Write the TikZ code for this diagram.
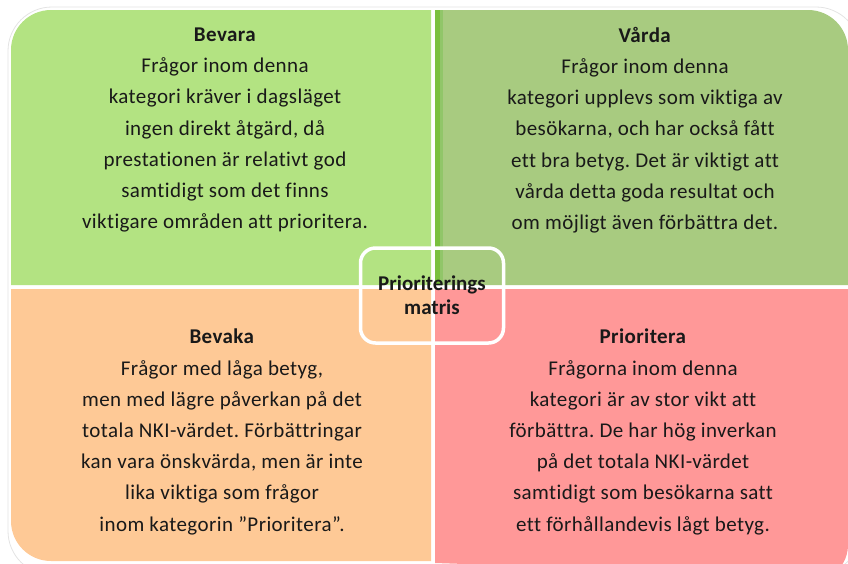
\documentclass[tikz,border=0pt]{standalone}
\usepackage{fontspec}
\setmainfont{Carlito}[Ligatures=NoCommon]
\newfontfamily\spacedfont{Carlito}[Ligatures=NoCommon,LetterSpace=2]
\frenchspacing
\definecolor{qtl}{RGB}{179,227,130}
\definecolor{qtr}{RGB}{168,203,128}
\definecolor{qbl}{RGB}{254,201,150}
\definecolor{qbr}{RGB}{255,152,152}
\definecolor{stripA}{RGB}{122,192,62}
\definecolor{stripB}{RGB}{145,198,105}
\definecolor{txt}{RGB}{25,25,25}
\tikzset{
  quadtext/.style={align=center, text=txt, font=\spacedfont\fontsize{21}{31.2}\selectfont, inner sep=0pt},
  centerbox/.style={draw=white, line width=3.5pt, rounded corners=15pt, minimum width=143pt, minimum height=95pt, align=center, text=txt, font=\fontsize{21}{24}\selectfont\bfseries}
}
\begin{document}
\begin{tikzpicture}[x=1pt,y=-1pt]
\useasboundingbox (0,0) rectangle (848,563);
% faint outer outline
\draw[gray!22, line width=0.8pt, rounded corners=44pt] (8,7) rectangle (860,575);
% quadrants
\fill[qtl] (11,285) -- (11,50) arc[start angle=180,end angle=270,radius=40] -- (431,10) -- (431,285) -- cycle;
\fill[qtr] (435,10) -- (808,10) arc[start angle=270,end angle=360,radius=40] -- (848,285) -- (435,285) -- cycle;
\fill[qbl] (11,289) -- (431,289) -- (431,561) -- (51,561) arc[start angle=90,end angle=180,radius=40] -- cycle;
\fill[qbr] (435,289) -- (848,289) -- (848,545) arc[start angle=0,end angle=60,radius=36] -- (435,563) -- cycle;
\fill[stripA] (435,10) rectangle (440,285);
\fill[stripB] (440,10) rectangle (443,285);
% texts
\node[quadtext] (tl) at (225,130) {\textbf{Bevara}\\Frågor inom denna\\kategori kräver i dagsläget\\ingen direkt åtgärd, då\\prestationen är relativt god\\samtidigt som det finns\\viktigare områden att prioritera.};
\node[quadtext] (tr) at (645,130) {\textbf{Vårda}\\Frågor inom denna\\kategori upplevs som viktiga av\\besökarna, och har också fått\\ett bra betyg. Det är viktigt att\\vårda detta goda resultat och\\om möjligt även förbättra det.};
\node[quadtext] (bl) at (222,432) {\textbf{Bevaka}\\Frågor med låga betyg,\\men med lägre påverkan på det\\totala NKI-värdet. Förbättringar\\kan vara önskvärda, men är inte\\lika viktiga som frågor\\inom kategorin ”Prioritera”.};
\node[quadtext] (br) at (643,432) {\textbf{Prioritera}\\Frågorna inom denna\\kategori är av stor vikt att\\förbättra. De har hög inverkan\\på det totala NKI-värdet\\samtidigt som besökarna satt\\ett förhållandevis lågt betyg.};
\node[centerbox] (c) at (432,295.5) {Prioriterings\\matris};
\end{tikzpicture}
\end{document}
